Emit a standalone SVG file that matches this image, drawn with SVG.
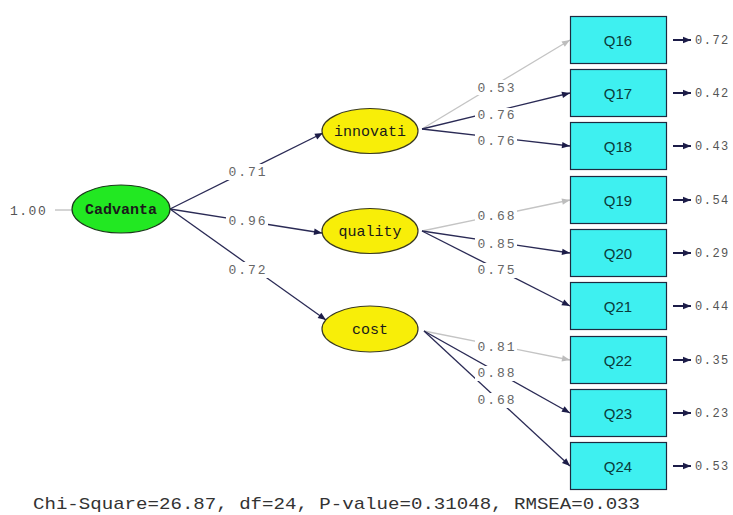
<svg xmlns="http://www.w3.org/2000/svg" width="733" height="515" viewBox="0 0 733 515">
<defs>
<marker id="ah" viewBox="0 0 10 10" refX="10" refY="5" markerWidth="10" markerHeight="8" orient="auto" markerUnits="userSpaceOnUse"><path d="M0,1 L10,5 L0,9 z" fill="#1c1c48"/></marker>
<marker id="ag" viewBox="0 0 10 10" refX="10" refY="5" markerWidth="10" markerHeight="8" orient="auto" markerUnits="userSpaceOnUse"><path d="M0,1 L10,5 L0,9 z" fill="#bdbdbd"/></marker>
</defs>
<style>
.dk{stroke:#2a2a55;stroke-width:1.3;fill:none;marker-end:url(#ah)}
.gr{stroke:#c4c4c4;stroke-width:1.3;fill:none;marker-end:url(#ag)}
.er{stroke:#1c1c48;stroke-width:2;fill:none;marker-end:url(#ah)}
.lbl{font-family:"Liberation Mono",monospace;font-size:13px;fill:#666;letter-spacing:2px;text-anchor:middle;dominant-baseline:central}
.bg{fill:#fff}
.box{fill:#3ef0f0;stroke:#1e2a40;stroke-width:1.2}
.bt{font-family:"Liberation Sans",Arial,sans-serif;font-size:15px;fill:#0a3a3a;text-anchor:middle;dominant-baseline:central}
.lat{fill:#f8ee08;stroke:#3a3a20;stroke-width:1.2}
.lt{font-family:"Liberation Mono",monospace;font-size:15px;fill:#1a1a1a;text-anchor:middle;dominant-baseline:central}
.ev{font-family:"Liberation Mono",monospace;font-size:12px;fill:#555;letter-spacing:1.5px;dominant-baseline:central}
</style>
<rect width="733" height="515" fill="#fff"/>
<g id="connectors">
<line x1="55" y1="210" x2="72" y2="210" stroke="#aaa" stroke-width="1"/>
<line class="dk" x1="170" y1="209" x2="323" y2="133"/>
<line class="dk" x1="170" y1="209" x2="322" y2="233"/>
<line class="dk" x1="170" y1="209" x2="326" y2="320"/>
<line class="gr" x1="422" y1="129" x2="570" y2="40"/>
<line class="dk" x1="422" y1="129" x2="570" y2="93"/>
<line class="dk" x1="422" y1="129" x2="570" y2="146"/>
<line class="gr" x1="422" y1="231" x2="570" y2="200"/>
<line class="dk" x1="422" y1="231" x2="570" y2="253"/>
<line class="dk" x1="422" y1="231" x2="570" y2="306"/>
<line class="gr" x1="424" y1="331" x2="570" y2="360"/>
<line class="dk" x1="424" y1="331" x2="570" y2="413"/>
<line class="dk" x1="424" y1="331" x2="570" y2="466"/>
<g id="errs">
<line class="er" x1="673" y1="40" x2="691" y2="40"/>
<line class="er" x1="673" y1="93" x2="691" y2="93"/>
<line class="er" x1="673" y1="146" x2="691" y2="146"/>
<line class="er" x1="673" y1="200" x2="691" y2="200"/>
<line class="er" x1="673" y1="253" x2="691" y2="253"/>
<line class="er" x1="673" y1="306" x2="691" y2="306"/>
<line class="er" x1="673" y1="360" x2="691" y2="360"/>
<line class="er" x1="673" y1="413" x2="691" y2="413"/>
<line class="er" x1="673" y1="466" x2="691" y2="466"/>
</g>
<g id="labels">
<rect class="bg" x="226" y="164" width="42" height="16"/><text class="lbl" x="248" y="172">0.71</text>
<rect class="bg" x="226" y="213" width="42" height="16"/><text class="lbl" x="248" y="221">0.96</text>
<rect class="bg" x="226" y="262" width="42" height="16"/><text class="lbl" x="248" y="270">0.72</text>
<rect class="bg" x="475" y="80" width="42" height="15"/><text class="lbl" x="497" y="88">0.53</text>
<rect class="bg" x="475" y="108" width="42" height="15"/><text class="lbl" x="497" y="115">0.76</text>
<rect class="bg" x="475" y="134" width="42" height="15"/><text class="lbl" x="497" y="141">0.76</text>
<rect class="bg" x="475" y="209" width="42" height="15"/><text class="lbl" x="497" y="216">0.68</text>
<rect class="bg" x="475" y="237" width="42" height="15"/><text class="lbl" x="497" y="244">0.85</text>
<rect class="bg" x="475" y="263" width="42" height="15"/><text class="lbl" x="497" y="270">0.75</text>
<rect class="bg" x="475" y="340" width="42" height="15"/><text class="lbl" x="497" y="347">0.81</text>
<rect class="bg" x="475" y="366" width="42" height="15"/><text class="lbl" x="497" y="373">0.88</text>
<rect class="bg" x="475" y="393" width="42" height="15"/><text class="lbl" x="497" y="400">0.68</text>
</g>
</g>
<text class="ev" x="10" y="211" style="font-size:13px">1.00</text>
<g id="Cadvanta"><ellipse cx="121" cy="209" rx="49" ry="24" fill="#22e822" stroke="#1a3a1a" stroke-width="1.2"/><text class="lt" x="121" y="210" font-weight="bold">Cadvanta</text></g>
<g id="innovati"><ellipse class="lat" cx="370" cy="131" rx="48" ry="22.5"/><text class="lt" x="370" y="132">innovati</text></g>
<g id="quality"><ellipse class="lat" cx="370" cy="231" rx="48" ry="22.5"/><text class="lt" x="370" y="232">quality</text></g>
<g id="cost"><ellipse class="lat" cx="370" cy="329" rx="48" ry="23"/><text class="lt" x="370" y="330">cost</text></g>
<g id="Q16"><rect class="box" x="570.5" y="16.5" width="96" height="47"/><text class="bt" x="618" y="40">Q16</text></g>
<g id="Q17"><rect class="box" x="570.5" y="69.5" width="96" height="47"/><text class="bt" x="618" y="93">Q17</text></g>
<g id="Q18"><rect class="box" x="570.5" y="122.5" width="96" height="47"/><text class="bt" x="618" y="146">Q18</text></g>
<g id="Q19"><rect class="box" x="570.5" y="176.5" width="96" height="47"/><text class="bt" x="618" y="200">Q19</text></g>
<g id="Q20"><rect class="box" x="570.5" y="229.5" width="96" height="47"/><text class="bt" x="618" y="253">Q20</text></g>
<g id="Q21"><rect class="box" x="570.5" y="282.5" width="96" height="47"/><text class="bt" x="618" y="306">Q21</text></g>
<g id="Q22"><rect class="box" x="570.5" y="336.5" width="96" height="47"/><text class="bt" x="618" y="360">Q22</text></g>
<g id="Q23"><rect class="box" x="570.5" y="389.5" width="96" height="47"/><text class="bt" x="618" y="413">Q23</text></g>
<g id="Q24"><rect class="box" x="570.5" y="442.5" width="96" height="47"/><text class="bt" x="618" y="466">Q24</text></g>
<g id="errvals">
<text class="ev" x="695" y="41">0.72</text>
<text class="ev" x="695" y="94">0.42</text>
<text class="ev" x="695" y="147">0.43</text>
<text class="ev" x="695" y="201">0.54</text>
<text class="ev" x="695" y="254">0.29</text>
<text class="ev" x="695" y="307">0.44</text>
<text class="ev" x="695" y="361">0.35</text>
<text class="ev" x="695" y="414">0.23</text>
<text class="ev" x="695" y="467">0.53</text>
</g>
<text x="33" y="509" font-family="Liberation Mono, monospace" font-size="17" fill="#333" textLength="607" lengthAdjust="spacingAndGlyphs">Chi-Square=26.87, df=24, P-value=0.31048, RMSEA=0.033</text>
</svg>
